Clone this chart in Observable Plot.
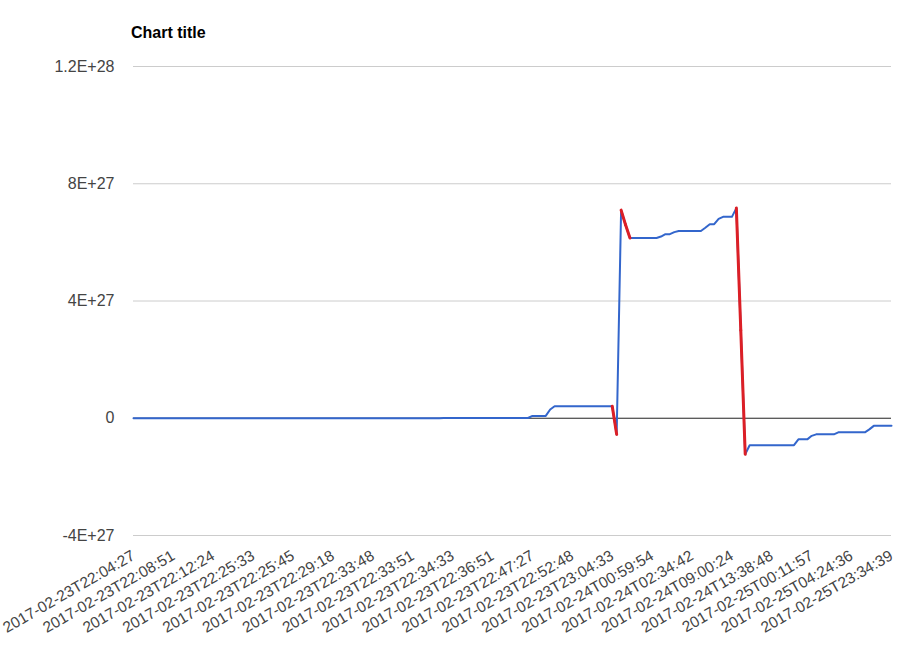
<!DOCTYPE html>
<html>
<head>
<meta charset="utf-8">
<script src="https://cdn.jsdelivr.net/npm/d3@7"></script>
<script src="https://cdn.jsdelivr.net/npm/@observablehq/plot@0.6"></script>
<style>
  html, body { margin: 0; padding: 0; background: #fff; }
  #wrap { position: relative; width: 902px; height: 647px; }
  #title { position: absolute; left: 131px; top: 24px; font-family: "Liberation Sans", Arial, sans-serif; font-weight: bold; font-size: 16px; color: #000; }
</style>
</head>
<body>
<div id="wrap"><div id="title">Chart title</div></div>
<script>
// x-axis category labels (one every 9 data points)
const labels = [
  "2017-02-23T22:04:27","2017-02-23T22:08:51","2017-02-23T22:12:24","2017-02-23T22:25:33",
  "2017-02-23T22:25:45","2017-02-23T22:29:18","2017-02-23T22:33:48","2017-02-23T22:33:51",
  "2017-02-23T22:34:33","2017-02-23T22:36:51","2017-02-23T22:47:27","2017-02-23T22:52:48",
  "2017-02-23T23:04:33","2017-02-24T00:59:54","2017-02-24T02:34:42","2017-02-24T09:00:24",
  "2017-02-24T13:38:48","2017-02-25T00:11:57","2017-02-25T04:24:36","2017-02-25T23:34:39"
];
const labelEvery = 9;

// series values, in units of 1E+27
const unit = 1e27;
const values = [
  0,0,0,0,0,0,0,0,0,0,
  0,0,0,0,0,0,0,0,0,0,
  0,0,0,0,0,0,0,0,0,0,
  0,0,0,0,0,0,0,0,0,0,
  0.002,0.002,0.002,0.002,0.002,0.002,0.002,0.002,0.002,0.002,
  0.002,0.002,0.002,0.002,0.002,0.002,0.002,0.002,0.002,0.002,
  0.002,0.002,0.002,0.002,0.002,0.002,0.002,0.002,0.002,0.002,
  0.008,0.008,0.008,0.008,0.008,0.008,0.008,0.008,0.008,0.008,
  0.008,0.008,0.008,0.008,0.008,0.008,0.008,0.008,0.008,0.008,
  0.08,0.08,0.08,0.08,0.3,0.41,0.41,0.41,0.41,0.41,
  0.41,0.41,0.41,0.41,0.41,0.41,0.41,0.41,0.41,-0.55,
  7.10,6.6,6.15,6.15,6.15,6.15,6.15,6.15,6.15,6.2,
  6.28,6.28,6.35,6.39,6.39,6.39,6.39,6.39,6.39,6.5,
  6.62,6.62,6.8,6.87,6.87,6.87,7.17,3.0,-1.23,-0.92,
  -0.92,-0.92,-0.92,-0.92,-0.92,-0.92,-0.92,-0.92,-0.92,-0.92,
  -0.72,-0.72,-0.72,-0.6,-0.55,-0.55,-0.55,-0.55,-0.55,-0.48,
  -0.48,-0.48,-0.48,-0.48,-0.48,-0.48,-0.38,-0.26,-0.26,-0.26,
  -0.26,-0.26
];

// y-axis ticks
const yTicks = [-4e27, 0, 4e27, 8e27, 1.2e28];

const data = values.map((v, i) => ({i, v: v * unit}));
const drops = [];
for (let j = 1; j < data.length; j++) {
  if (data[j].v < data[j - 1].v) drops.push({x1: data[j - 1].i, y1: data[j - 1].v, x2: data[j].i, y2: data[j].v});
}
const xTicks = labels.map((_, k) => k * labelEvery);
const fmtY = d => d === 0 ? "0" : d.toExponential().toUpperCase();

const chart = Plot.plot({
  width: 902,
  height: 647,
  marginTop: 66,
  marginBottom: 112,
  marginLeft: 133,
  marginRight: 11,
  style: {fontFamily: "'Liberation Sans', Arial, sans-serif", fontSize: "16px", color: "#444", background: "#fff"},
  x: {domain: [0, data.length - 1]},
  y: {domain: [-4e27, 1.2e28]},
  marks: [
    Plot.gridY(yTicks, {stroke: "#cccccc", strokeOpacity: 1}),
    Plot.ruleY([0], {stroke: "#333", strokeWidth: 1}),
    Plot.axisY(yTicks, {tickSize: 0, tickPadding: 19, tickFormat: fmtY, fontSize: 16, label: null}),
    Plot.axisX(xTicks, {tickSize: 0, tickPadding: 19, tickRotate: -30, tickFormat: d => labels[d / labelEvery], fontSize: 15.5, label: null}),
    Plot.line(data, {x: "i", y: "v", stroke: "#3366cc", strokeWidth: 2}),
    Plot.link(drops, {x1: "x1", y1: "y1", x2: "x2", y2: "y2", stroke: "#dc1f26", strokeWidth: 3, strokeLinecap: "round", markerEnd: "none"})
  ]
});
document.getElementById("wrap").appendChild(chart);
</script>
</body>
</html>
